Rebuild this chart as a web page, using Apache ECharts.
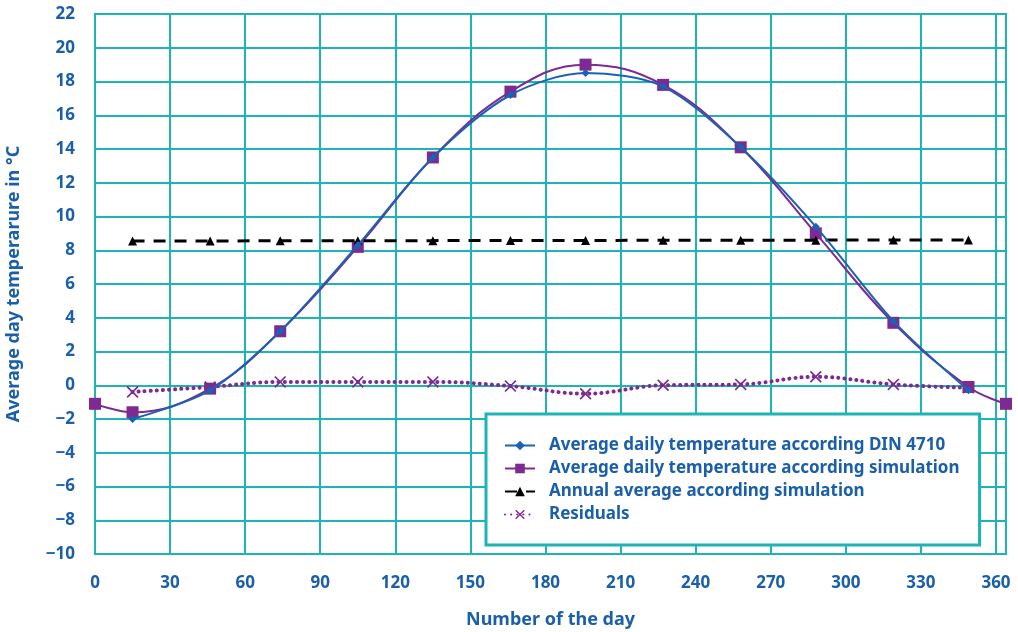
<!DOCTYPE html>
<html lang="en">
<head>
    <meta charset="UTF-8">
    <title>Average day temperature</title>
    <script src="https://cdn.jsdelivr.net/npm/echarts@6/dist/echarts.min.js"></script>
    <style>
        body{
            margin: 0;
            background: #fff;
        }
        #chart{
            width: 1018px;
            height: 632px;
        }
    </style>
</head>
<body>
    <div id="chart"></div>
    <script>
        // days of the year
        var dinDays = [15, 46, 74, 105, 135, 166, 196, 227, 258, 288, 319, 349];
        var dinTemp = [-2.0, -0.3, 3.2, 8.3, 13.5, 17.2, 18.5, 17.7, 14.1, 9.4, 3.8, -0.3];

        var simDays = [0, 15, 46, 74, 105, 135, 166, 196, 227, 258, 288, 319, 349, 364];
        var simTemp = [-1.1, -1.6, -0.2, 3.2, 8.2, 13.5, 17.4, 19.0, 17.8, 14.1, 9.0, 3.7, -0.1, -1.1];

        var annualTemp = [8.55, 8.55, 8.56, 8.56, 8.57, 8.58, 8.58, 8.59, 8.6, 8.6, 8.61, 8.61];
        var residuals = [-0.4, -0.1, 0.2, 0.2, 0.2, -0.05, -0.5, 0.0, 0.05, 0.5, 0.05, -0.15];

        var names = [
            'Average daily temperature according DIN 4710',
            'Average daily temperature according simulation',
            'Annual average according simulation',
            'Residuals'
        ];

        var teal = '#1fb4b4';
        var txt = '#1a5fa8';
        var blue = '#1c62b3';
        var purple = '#7e2a92';
        var cross = 'path://M0,1 L1,0 L5,4 L9,0 L10,1 L6,5 L10,9 L9,10 L5,6 L1,10 L0,9 L4,5 Z';

        function pairs(xs, ys){
            return xs.map(function(x, i){ return [x, ys[i]]; });
        }

        var myChart = echarts.init(document.getElementById('chart'));
        var option = {
            animation: false,
            textStyle: { fontFamily: 'Noto Sans' },
            grid: {
                left: 95, right: 12, top: 14, bottom: 78,
                outerBoundsMode: 'none',
                containLabel: false,
                show: true,
                borderColor: teal,
                borderWidth: 2
            },
            legend: {
                orient: 'vertical',
                left: 486,
                top: 414,
                data: names,
                backgroundColor: '#fff',
                borderColor: teal,
                borderWidth: 3,
                borderRadius: 0,
                padding: [23, 20, 22, 18],
                itemWidth: 30,
                itemHeight: 12,
                itemGap: 6,
                textStyle: {
                    color: txt,
                    fontSize: 17,
                    fontWeight: 'bold',
                    padding: [0, 0, 0, 9]
                }
            },
            xAxis: {
                type: 'value',
                min: 0,
                max: 364,
                interval: 30,
                name: 'Number of the day',
                nameLocation: 'middle',
                nameGap: 57,
                nameTextStyle: { color: txt, fontSize: 18, fontWeight: 'bold' },
                axisLine: { lineStyle: { color: teal, width: 2 } },
                axisTick: { show: false },
                axisLabel: {
                    color: txt, fontSize: 17, fontWeight: 'bold', margin: 21,
                    showMaxLabel: false
                },
                splitLine: { lineStyle: { color: teal, width: 2 } }
            },
            yAxis: {
                type: 'value',
                min: -10,
                max: 22,
                interval: 2,
                name: 'Average day temperarure in °C',
                nameLocation: 'middle',
                nameGap: 72,
                nameTextStyle: { color: txt, fontSize: 18, fontWeight: 'bold' },
                axisLine: { show: true, lineStyle: { color: teal, width: 2 } },
                axisTick: { show: false },
                axisLabel: {
                    color: txt, fontSize: 17, fontWeight: 'bold', margin: 20,
                    formatter: function(v){ return v < 0 ? '\u2212' + (-v) : v; }
                },
                splitLine: { lineStyle: { color: teal, width: 2 } }
            },
            series: [
                {
                    name: names[0],
                    type: 'line',
                    z: 5,
                    data: pairs(dinDays, dinTemp),
                    smooth: 0.3,
                    symbol: 'diamond',
                    symbolSize: 8,
                    color: blue,
                    lineStyle: { color: blue, width: 2 }
                },
                {
                    name: names[1],
                    type: 'line',
                    z: 3,
                    data: pairs(simDays, simTemp),
                    smooth: 0.4,
                    symbol: 'rect',
                    symbolSize: 12,
                    color: purple,
                    lineStyle: { color: purple, width: 2 }
                },
                {
                    name: names[2],
                    type: 'line',
                    z: 4,
                    data: pairs(dinDays, annualTemp),
                    symbol: 'triangle',
                    symbolSize: 9,
                    color: '#000',
                    lineStyle: { color: '#000', width: 3, type: [12, 9] }
                },
                {
                    name: names[3],
                    type: 'line',
                    z: 4,
                    data: pairs(dinDays, residuals),
                    smooth: 0.4,
                    symbol: cross,
                    symbolSize: 12,
                    color: purple,
                    lineStyle: { color: purple, width: 4, type: [0.1, 6], cap: 'round' }
                }
            ]
        };
        myChart.setOption(option);
    </script>
</body>
</html>
